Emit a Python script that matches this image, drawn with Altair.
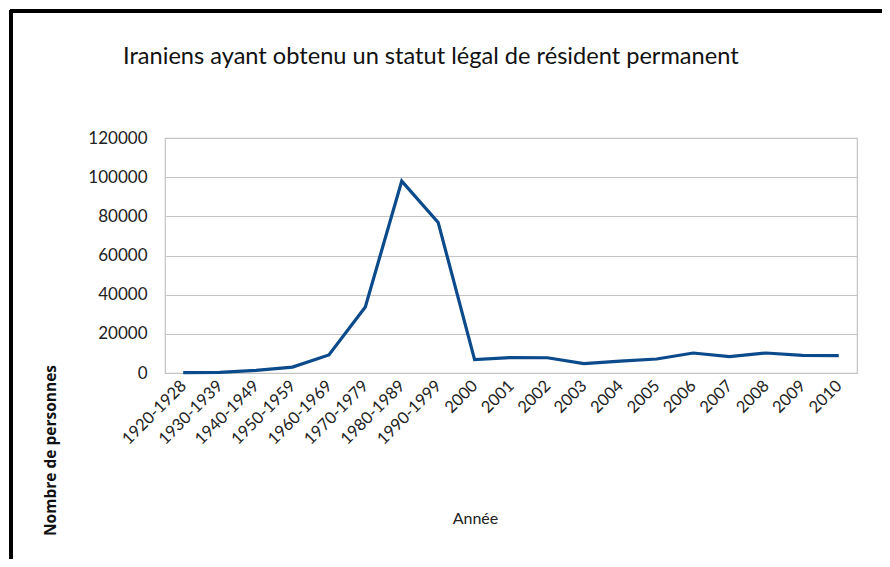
import altair as alt
import pandas as pd

categories = ["1920-1928", "1930-1939", "1940-1949", "1950-1959", "1960-1969",
              "1970-1979", "1980-1989", "1990-1999", "2000", "2001", "2002",
              "2003", "2004", "2005", "2006", "2007", "2008", "2009", "2010"]
values = [200, 300, 1300, 3000, 9200, 33700, 98000, 76900, 6800, 7900, 7800,
          4800, 6100, 7150, 10200, 8350, 10200, 9000, 8850]
title_text = "Iraniens ayant obtenu un statut légal de résident permanent"

df = pd.DataFrame({"annee": categories, "n": values})

FONT = "Lato"
W, H = 692, 235

line = alt.Chart(df).mark_line(color="#0b4a8b", strokeWidth=3.2).encode(
    x=alt.X("annee:N", sort=categories, scale=alt.Scale(padding=0.5),
            axis=alt.Axis(title="Année", labelAngle=-45, labelAlign="right",
                          labelBaseline="middle", labelFont=FONT, labelFontSize=16.5,
                          labelColor="#222", labelPadding=10, ticks=False, domain=False,
                          grid=False, titleFont=FONT, titleFontSize=16,
                          titleFontWeight="normal", titleColor="#222",
                          titleX=310, titleY=145, titleBaseline="middle")),
    y=alt.Y("n:Q", scale=alt.Scale(domain=[0, 120000], nice=False),
            axis=alt.Axis(title="Nombre de personnes", values=list(range(0, 120001, 20000)),
                          format="d", labelFont=FONT, labelFontSize=17, labelColor="#222",
                          labelPadding=18, ticks=False, domain=False,
                          gridColor="#c4c4c4", gridWidth=1.2,
                          titleFont="Open Sans", titleFontSize=15.5, titleFontWeight="bold",
                          titleColor="#111", titleX=-115, titleY=312, titleAngle=-90,
                          titleAlign="center", titleBaseline="middle")),
)

frame_top = alt.Chart(df).mark_rule(color="black", strokeWidth=3).encode(
    x=alt.value(-155), x2=alt.value(740), y=alt.value(-127))
frame_left = alt.Chart(df).mark_rule(color="black", strokeWidth=3).encode(
    x=alt.value(-154), y=alt.value(-128), y2=alt.value(450))

title_mark = alt.Chart(df.head(1)).mark_text(
    font=FONT, fontSize=23.6, color="#111", align="left", baseline="alphabetic"
).encode(x=alt.value(-42), y=alt.value(-74), text=alt.value(title_text))

chart = alt.layer(frame_top, frame_left, title_mark, line).properties(
    width=W, height=H,
    autosize=alt.AutoSizeParams(type="none"),
    padding={"left": 157, "top": 130, "right": 25, "bottom": 186},
).configure_view(stroke="#c4c4c4", strokeWidth=1.2)

chart.save("out.html", embed_options={"renderer": "svg", "actions": False})
